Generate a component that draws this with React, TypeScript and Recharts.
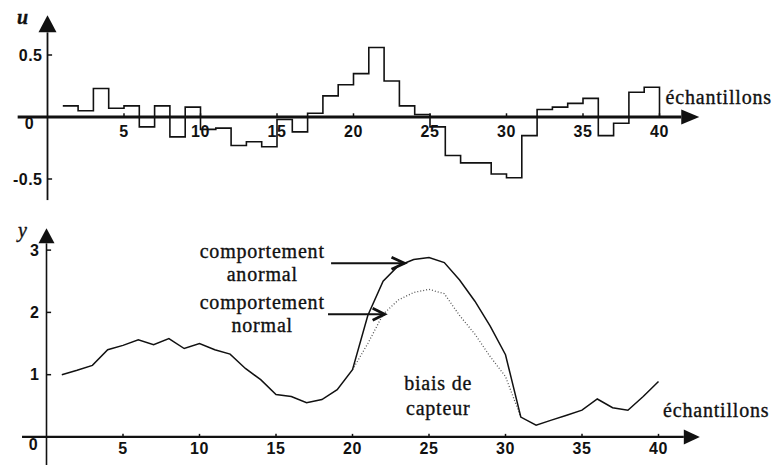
import { Line, LineChart, ReferenceDot, ReferenceLine, XAxis, YAxis } from 'recharts';

const samples = [1, 2, 3, 4, 5, 6, 7, 8, 9, 10, 11, 12, 13, 14, 15, 16, 17, 18, 19, 20, 21, 22, 23, 24, 25, 26, 27, 28, 29, 30, 31, 32, 33, 34, 35, 36, 37, 38, 39, 40];

// commande u (échelon par échantillon, dernier point = retour à 0)
const uValues = [0.09, 0.05, 0.23, 0.07, 0.09, -0.08, 0.09, -0.16, 0.08, -0.1, -0.09, -0.23, -0.2, -0.24, -0.02, -0.12, 0.03, 0.17, 0.26, 0.35, 0.56, 0.29, 0.09, 0.02, -0.08, -0.31, -0.37, -0.37, -0.46, -0.49, -0.15, 0.06, 0.08, 0.11, 0.15, -0.15, -0.05, 0.2, 0.24, 0];

// sortie y avec biais de capteur
const yAnormal = [1.0, 1.07, 1.15, 1.4, 1.47, 1.56, 1.48, 1.58, 1.42, 1.5, 1.4, 1.33, 1.1, 0.92, 0.68, 0.65, 0.55, 0.6, 0.76, 1.08, 1.95, 2.5, 2.75, 2.85, 2.88, 2.8, 2.52, 2.18, 1.78, 1.32, 0.32, 0.19, 0.27, 0.35, 0.43, 0.61, 0.47, 0.43, 0.65, 0.89];

// sortie y normale (ne diffère que de 20 à 31)
const yNormal = [null, null, null, null, null, null, null, null, null, null, null, null, null, null, null, null, null, null, null, 1.08, 1.5, 1.97, 2.2, 2.32, 2.37, 2.3, 1.95, 1.65, 1.29, 0.97, 0.32, null, null, null, null, null, null, null, null, null];

const xTicks = [5, 10, 15, 20, 25, 30, 35, 40];
const uTicks = [0.5, -0.5];
const yTicks = [1, 2, 3];

const topData = samples.map((x, i) => ({ x, u: uValues[i] }));
const bottomData = samples.map((x, i) => ({ x, anormal: yAnormal[i], normal: yNormal[i] }));

const SANS = '"Liberation Sans", Arial, sans-serif';
const SERIF = '"Liberation Serif", "Times New Roman", serif';

const tickFont = { fontFamily: SANS, fontSize: 16, fontWeight: 'bold', fill: '#111', letterSpacing: 0.5 };
const serifFont = { fontFamily: SERIF, fontSize: 20, fill: '#111', stroke: '#111', strokeWidth: 0.35, letterSpacing: 0.8 };

// trait avec pointe de flèche (pleine pour les axes, ouverte pour les annotations)
const arrow = (head: number, half: number, width: number, open = false) => (p: any) => {
  const { x1, y1, x2, y2 } = p;
  const dx = x2 - x1;
  const dy = y2 - y1;
  const len = Math.hypot(dx, dy) || 1;
  const ux = dx / len;
  const uy = dy / len;
  const bx = x2 - ux * head;
  const by = y2 - uy * head;
  const ax = bx - uy * half;
  const ay = by + ux * half;
  const cx = bx + uy * half;
  const cy = by - ux * half;
  if (open) {
    return (
      <g>
        <line x1={x1} y1={y1} x2={x2} y2={y2} stroke="#111" strokeWidth={width} />
        <polyline points={`${ax},${ay} ${x2},${y2} ${cx},${cy}`} fill="none" stroke="#111" strokeWidth={width + 0.8} />
      </g>
    );
  }
  return (
    <g>
      <line x1={x1} y1={y1} x2={bx} y2={by} stroke="#111" strokeWidth={width} />
      <polygon points={`${x2},${y2} ${ax},${ay} ${cx},${cy}`} fill="#111" />
    </g>
  );
};

const originLabel = (dx: number, dy: number) => (props: any) => (
  <text x={props.viewBox.x + dx} y={props.viewBox.y + dy} textAnchor="middle" dominantBaseline="middle" {...tickFont}>
    0
  </text>
);

export default function App() {
  return (
    <div style={{ position: 'absolute', left: 0, top: 0, width: 775, height: 466, background: '#fff' }}>
      <div style={{ position: 'absolute', left: 0, top: 0 }}>
        <LineChart width={775} height={215} data={topData} margin={{ top: 11.6, right: 69.6, bottom: 11.2, left: 16.9 }}>
          <XAxis hide type="number" dataKey="x" domain={[-2, 43]} allowDataOverflow />
          <YAxis hide domain={[-0.7, 0.85]} allowDataOverflow />
          <ReferenceLine ifOverflow="visible" segment={[{ x: -1.95, y: 0 }, { x: 42.6, y: 0 }]} shape={arrow(18, 7.5, 3)} />
          <ReferenceLine ifOverflow="visible" segment={[{ x: 0, y: -0.67 }, { x: 0, y: 0.82 }]} shape={arrow(17, 9, 1.8)} />
          {xTicks.map((t) => (
            <ReferenceLine key={`tm${t}`} ifOverflow="visible" segment={[{ x: t, y: 0 }, { x: t, y: 0.03 }]} stroke="#111" strokeWidth={1.5} />
          ))}
          {uTicks.map((t) => (
            <ReferenceLine key={`um${t}`} ifOverflow="visible" segment={[{ x: 0, y: t }, { x: 0.3, y: t }]} stroke="#111" strokeWidth={1.5} />
          ))}
          <Line type="stepAfter" dataKey="u" stroke="#111" strokeWidth={1.6} dot={false} activeDot={false} isAnimationActive={false} />
          {xTicks.map((t) => (
            <ReferenceDot key={`tl${t}`} ifOverflow="visible" x={t} y={0} r={0} fill="none" stroke="none" label={{ value: t, position: 'bottom', offset: 9, ...tickFont }} />
          ))}
          {uTicks.map((t) => (
            <ReferenceDot key={`ul${t}`} ifOverflow="visible" x={0} y={t} r={0} fill="none" stroke="none" label={{ value: t, position: 'left', offset: 5, ...tickFont }} />
          ))}
          <ReferenceDot ifOverflow="visible" x={0} y={0} r={0} fill="none" stroke="none" label={{ content: originLabel(-18, 8) }} />
          <ReferenceDot ifOverflow="visible" x={-1.6} y={0.81} r={0} fill="none" stroke="none" label={{ value: 'u', position: 'center', ...serifFont, fontStyle: 'italic', fontWeight: 'bold' }} />
          <ReferenceDot ifOverflow="visible" x={40.4} y={0.16} r={0} fill="none" stroke="none" label={{ value: 'échantillons', position: 'right', offset: 0, ...serifFont }} />
        </LineChart>
      </div>
      <div style={{ position: 'absolute', left: 0, top: 215 }}>
        <LineChart width={775} height={251} data={bottomData} margin={{ top: 10.2, right: 70.6, bottom: 1, left: 15.9 }}>
          <XAxis hide type="number" dataKey="x" domain={[-2, 43]} allowDataOverflow />
          <YAxis hide domain={[-0.45, 3.4]} allowDataOverflow />
          <ReferenceLine ifOverflow="visible" segment={[{ x: -1.6, y: 0 }, { x: 42.7, y: 0 }]} shape={arrow(16, 7.5, 2.2)} />
          <ReferenceLine ifOverflow="visible" segment={[{ x: 0, y: -0.45 }, { x: 0, y: 3.35 }]} shape={arrow(15, 8, 1.6)} />
          {xTicks.map((t) => (
            <ReferenceLine key={`bm${t}`} ifOverflow="visible" segment={[{ x: t, y: 0 }, { x: t, y: 0.05 }]} stroke="#111" strokeWidth={1.5} />
          ))}
          {yTicks.map((t) => (
            <ReferenceLine key={`ym${t}`} ifOverflow="visible" segment={[{ x: 0, y: t }, { x: 0.3, y: t }]} stroke="#111" strokeWidth={1.5} />
          ))}
          <Line type="linear" dataKey="normal" stroke="#555" strokeWidth={1.3} strokeDasharray="1 2" dot={false} activeDot={false} isAnimationActive={false} />
          <Line type="linear" dataKey="anormal" stroke="#111" strokeWidth={1.5} dot={false} activeDot={false} isAnimationActive={false} />
          <ReferenceLine ifOverflow="visible" segment={[{ x: 18.6, y: 2.79 }, { x: 23.4, y: 2.79 }]} shape={arrow(13, 6, 2, true)} />
          <ReferenceLine ifOverflow="visible" segment={[{ x: 18.4, y: 1.97 }, { x: 22.1, y: 1.97 }]} shape={arrow(12, 6, 2, true)} />
          {xTicks.map((t) => (
            <ReferenceDot key={`bl${t}`} ifOverflow="visible" x={t} y={0} r={0} fill="none" stroke="none" label={{ value: t, position: 'bottom', offset: 6, ...tickFont }} />
          ))}
          {yTicks.map((t) => (
            <ReferenceDot key={`yl${t}`} ifOverflow="visible" x={0} y={t} r={0} fill="none" stroke="none" label={{ value: t, position: 'left', offset: 7, ...tickFont }} />
          ))}
          <ReferenceDot ifOverflow="visible" x={0} y={0} r={0} fill="none" stroke="none" label={{ content: originLabel(-13, 9) }} />
          <ReferenceDot ifOverflow="visible" x={-1.55} y={3.32} r={0} fill="none" stroke="none" label={{ value: 'y', position: 'center', ...serifFont, fontStyle: 'italic' }} />
          <ReferenceDot ifOverflow="visible" x={14.1} y={2.99} r={0} fill="none" stroke="none" label={{ value: 'comportement', position: 'center', ...serifFont }} />
          <ReferenceDot ifOverflow="visible" x={14.1} y={2.62} r={0} fill="none" stroke="none" label={{ value: 'anormal', position: 'center', ...serifFont }} />
          <ReferenceDot ifOverflow="visible" x={14.1} y={2.17} r={0} fill="none" stroke="none" label={{ value: 'comportement', position: 'center', ...serifFont }} />
          <ReferenceDot ifOverflow="visible" x={14.1} y={1.8} r={0} fill="none" stroke="none" label={{ value: 'normal', position: 'center', ...serifFont }} />
          <ReferenceDot ifOverflow="visible" x={25.6} y={0.87} r={0} fill="none" stroke="none" label={{ value: 'biais de', position: 'center', ...serifFont }} />
          <ReferenceDot ifOverflow="visible" x={25.6} y={0.47} r={0} fill="none" stroke="none" label={{ value: 'capteur', position: 'center', ...serifFont }} />
          <ReferenceDot ifOverflow="visible" x={40.3} y={0.43} r={0} fill="none" stroke="none" label={{ value: 'échantillons', position: 'right', offset: 0, ...serifFont }} />
        </LineChart>
      </div>
    </div>
  );
}
